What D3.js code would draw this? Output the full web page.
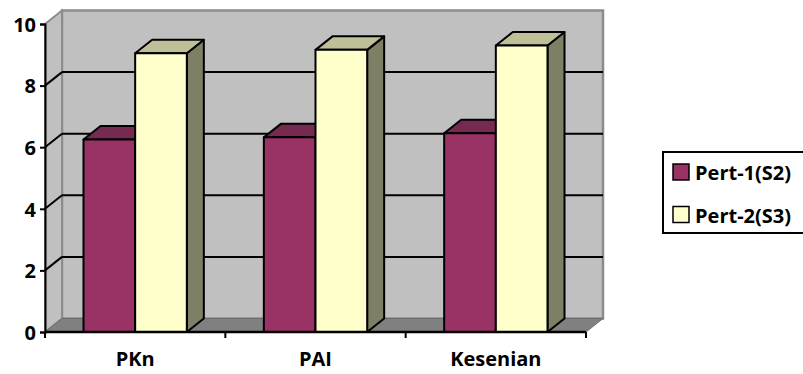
<!DOCTYPE html>
<html>
<head>
<meta charset="utf-8">
<script src="https://cdn.jsdelivr.net/npm/d3@7"></script>
<style>
  html, body { margin: 0; padding: 0; background: #ffffff; }
  svg { display: block; }
  text { font-family: "Open Sans", "Noto Sans", sans-serif; font-weight: 700; fill: #000; }
</style>
</head>
<body>
<svg id="chart" width="803" height="374"></svg>
<script>
// Nilai rata-rata per mata pelajaran
const categories = ["PKn", "PAI", "Kesenian"];
const seriesNames = ["Pert-1(S2)", "Pert-2(S3)"];
const pert1 = [6.25, 6.32, 6.45];
const pert2 = [9.05, 9.16, 9.30];
const yTicks = [0, 2, 4, 6, 8, 10];

// colours: front face, top face, side face
const palette = [
  { front: "#993366", top: "#772a50", side: "#5e2140" },
  { front: "#ffffcc", top: "#c0c098", side: "#7f7f66" }
];

const svg = d3.select("#chart");

// plot frame
const plotLeft = 45, plotRight = 586, plotBottom = 332, plotTop = 24;
const depth = { dx: 17, dy: -13.5 };

const x = d3.scaleBand().domain(categories).range([plotLeft, plotRight])
  .paddingInner(77 / 180.33).paddingOuter(38.5 / 180.33);
const xs = d3.scaleBand().domain(seriesNames).range([0, x.bandwidth()]);
const y = d3.scaleLinear().domain([0, 10]).range([plotBottom, plotTop]);

const pt = (a) => a.map(p => p.join(",")).join(" ");

// back wall
const g = svg.append("g");
g.append("polygon")
  .attr("points", pt([[plotLeft + depth.dx, y(10) + depth.dy], [plotRight + depth.dx, y(10) + depth.dy],
                      [plotRight + depth.dx, y(0) + depth.dy], [plotLeft + depth.dx, y(0) + depth.dy]]))
  .attr("fill", "#c0c0c0").attr("stroke", "#8c8c8c").attr("stroke-width", 2.5);

// side wall
g.append("polygon")
  .attr("points", pt([[plotLeft, y(10)], [plotLeft + depth.dx, y(10) + depth.dy],
                      [plotLeft + depth.dx, y(0) + depth.dy], [plotLeft, y(0)]]))
  .attr("fill", "#c0c0c0").attr("stroke", "#8c8c8c").attr("stroke-width", 2);

// floor
g.append("polygon")
  .attr("points", pt([[plotLeft, y(0)], [plotRight, y(0)], [plotRight + depth.dx, y(0) + depth.dy],
                      [plotLeft + depth.dx, y(0) + depth.dy]]))
  .attr("fill", "#808080").attr("stroke", "#6e6e6e").attr("stroke-width", 1);

// gridlines: diagonal on the side wall, horizontal on the back wall
const grid = yTicks.filter(v => v > 0 && v < 10);
g.selectAll(".gside").data(grid).join("line")
  .attr("x1", plotLeft).attr("y1", d => y(d))
  .attr("x2", plotLeft + depth.dx).attr("y2", d => y(d) + depth.dy)
  .attr("stroke", "#000").attr("stroke-width", 2);
g.selectAll(".gback").data(grid).join("line")
  .attr("x1", plotLeft + depth.dx).attr("y1", d => y(d) + depth.dy)
  .attr("x2", plotRight + depth.dx).attr("y2", d => y(d) + depth.dy)
  .attr("stroke", "#000").attr("stroke-width", 2);

// bars
const rows = categories.map((c, i) => ({ cat: c, vals: [pert1[i], pert2[i]] }));
rows.forEach(r => {
  r.vals.forEach((v, s) => {
    const x0 = x(r.cat) + xs(seriesNames[s]);
    const x1 = x0 + xs.bandwidth();
    const y0 = y(0), y1 = y(v);
    const col = palette[s];
    const bg = g.append("g").attr("stroke", "#000").attr("stroke-width", 2).attr("stroke-linejoin", "round");
    bg.append("polygon")
      .attr("points", pt([[x1, y1], [x1 + depth.dx, y1 + depth.dy], [x1 + depth.dx, y0 + depth.dy], [x1, y0]]))
      .attr("fill", col.side);
    bg.append("polygon")
      .attr("points", pt([[x0, y1], [x0 + depth.dx, y1 + depth.dy], [x1 + depth.dx, y1 + depth.dy], [x1, y1]]))
      .attr("fill", col.top);
    bg.append("rect")
      .attr("x", x0).attr("y", y1).attr("width", x1 - x0).attr("height", y0 - y1)
      .attr("fill", col.front);
  });
});

// y axis
const yAxis = svg.append("g").attr("transform", `translate(${plotLeft},0)`)
  .call(d3.axisLeft(y).tickValues(yTicks).tickFormat(d3.format("d")).tickSize(5).tickPadding(4));
yAxis.select(".domain").attr("stroke", "#000").attr("stroke-width", 2);
yAxis.selectAll(".tick line").attr("stroke", "#000").attr("stroke-width", 2);
yAxis.selectAll(".tick text").style("font-size", "20px").style("font-family", "\"Open Sans\", sans-serif").style("font-weight", 700).attr("dy", "0.36em");

// x axis
const xTicks = d3.range(categories.length + 1).map(i => plotLeft + i * x.step());
svg.append("line").attr("x1", plotLeft).attr("x2", plotRight).attr("y1", plotBottom).attr("y2", plotBottom)
  .attr("stroke", "#000").attr("stroke-width", 2.5);
svg.selectAll(".xt").data(xTicks).join("line")
  .attr("x1", d => d).attr("x2", d => d).attr("y1", plotBottom).attr("y2", plotBottom + 6)
  .attr("stroke", "#000").attr("stroke-width", 2);
svg.selectAll(".xl").data(categories).join("text")
  .attr("x", d => x(d) + x.bandwidth() / 2).attr("y", 366)
  .attr("text-anchor", "middle").style("font-size", "20px").text(d => d);

// legend (box runs past the right edge)
const lg = svg.append("g");
lg.append("rect").attr("x", 663).attr("y", 152).attr("width", 200).attr("height", 81)
  .attr("fill", "#fff").attr("stroke", "#000").attr("stroke-width", 2);
seriesNames.forEach((n, i) => {
  const yy = 164 + i * 42.5;
  lg.append("rect").attr("x", 673).attr("y", yy).attr("width", 16).attr("height", 16)
    .attr("fill", palette[i].front).attr("stroke", "#000").attr("stroke-width", 1.5);
  lg.append("text").attr("x", 695).attr("y", yy + 16).style("font-size", "20px").text(n);
});
</script>
</body>
</html>
